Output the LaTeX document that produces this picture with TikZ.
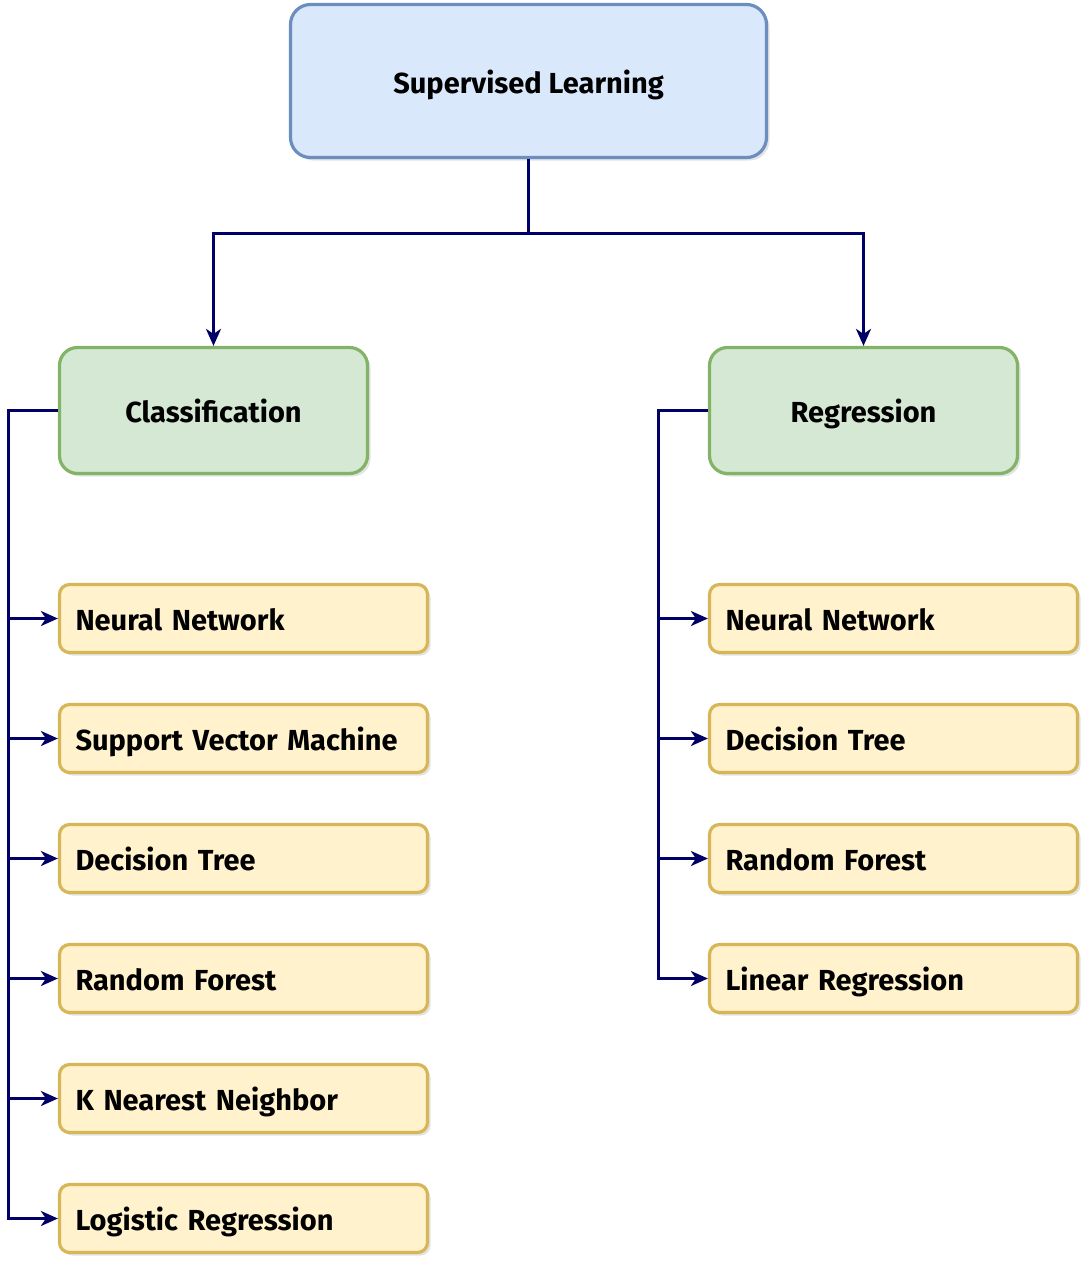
\documentclass[tikz,border=0pt]{standalone}
\usepackage{fontspec}
\setmainfont{Fira Sans}
\usetikzlibrary{shadows,arrows.meta}
\definecolor{bluefill}{HTML}{DAE8FC}
\definecolor{bluedraw}{HTML}{6C8EBF}
\definecolor{greenfill}{HTML}{D5E8D4}
\definecolor{greendraw}{HTML}{82B366}
\definecolor{yellowfill}{HTML}{FFF2CC}
\definecolor{yellowdraw}{HTML}{D6B656}
\definecolor{navy}{HTML}{000066}
\tikzset{
  basebox/.style={draw, line width=3.2pt, font=\fontsize{29}{33}\selectfont\bfseries,
    text height=29pt, text depth=5pt,
    drop shadow={opacity=0.22, shadow xshift=3pt, shadow yshift=-3pt}},
  topbox/.style={basebox, fill=bluefill, draw=bluedraw, rounded corners=20pt,
    minimum width=476pt, minimum height=153pt},
  catbox/.style={basebox, fill=greenfill, draw=greendraw, rounded corners=18pt,
    minimum width=308pt, minimum height=126pt},
  itembox/.style={basebox, fill=yellowfill, draw=yellowdraw, rounded corners=10pt,
    text width=336pt, align=left, inner xsep=16pt, inner ysep=0pt, minimum height=68pt},
  edge/.style={draw=navy, line width=3pt,
    -{Stealth[length=17pt,width=15pt,inset=5pt]}}
}
\begin{document}
\begin{tikzpicture}[x=1pt,y=-1pt]
\useasboundingbox (0,0) rectangle (1092,1267);
\node[topbox] (sl) at (528.5,81) {Supervised Learning};
\node[catbox] (cls) at (213.5,410.5) {Classification};
\node[catbox] (reg) at (863.5,410.5) {Regression};

\node[itembox] (l1) at (243.5,618.5) {Neural Network};
\node[itembox] (l2) at (243.5,738.5) {Support Vector Machine};
\node[itembox] (l3) at (243.5,858.5) {Decision Tree};
\node[itembox] (l4) at (243.5,978.5) {Random Forest};
\node[itembox] (l5) at (243.5,1098.5) {K Nearest Neighbor};
\node[itembox] (l6) at (243.5,1218.5) {Logistic Regression};

\node[itembox] (r1) at (893.5,618.5) {Neural Network};
\node[itembox] (r2) at (893.5,738.5) {Decision Tree};
\node[itembox] (r3) at (893.5,858.5) {Random Forest};
\node[itembox] (r4) at (893.5,978.5) {Linear Regression};

\coordinate (j) at (528.5,233);
\draw[edge] (sl.south) -- (j) -| (cls.north);
\draw[edge] (sl.south) -- (j) -| (reg.north);

\coordinate (ls) at (8,410.5);
\coordinate (rs) at (658,410.5);
\foreach \n in {l1,l2,l3,l4,l5,l6}{
  \draw[edge] (cls.west) -- (ls) |- (\n.west);
}
\foreach \n in {r1,r2,r3,r4}{
  \draw[edge] (reg.west) -- (rs) |- (\n.west);
}
\end{tikzpicture}
\end{document}
